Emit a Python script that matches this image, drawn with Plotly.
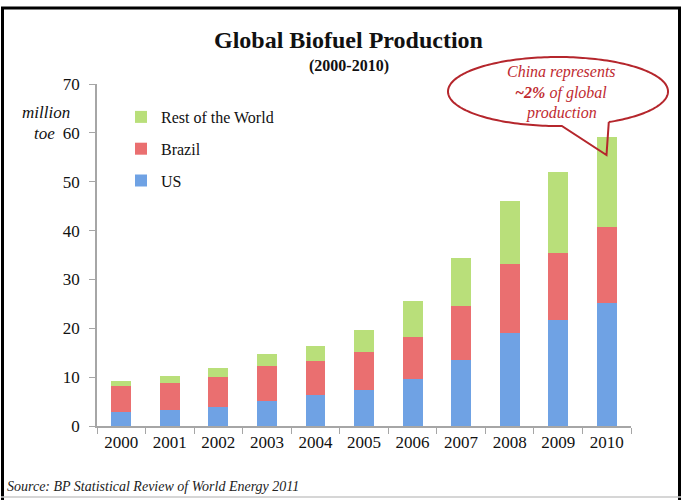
import numpy as np
import plotly.graph_objects as go

# Global biofuel production, million tonnes oil equivalent
years = ["2000", "2001", "2002", "2003", "2004", "2005",
         "2006", "2007", "2008", "2009", "2010"]
us = [2.9, 3.2, 3.8, 5.1, 6.3, 7.3, 9.7, 13.5, 19.1, 21.6, 25.2]
brazil = [5.3, 5.5, 6.3, 7.1, 7.1, 7.9, 8.6, 11.1, 14.1, 13.8, 15.6]
rest_of_world = [1.0, 1.5, 1.8, 2.5, 2.9, 4.5, 7.2, 9.8, 12.9, 16.6, 18.3]

SERIF = "Liberation Serif"
W, H = 681, 500
L, R, T, B = 97, 50, 84, 74
PW, PH = W - L - R, H - T - B


def px(x):
    return (x - L) / PW


def py(y):
    return (H - B - y) / PH


fig = go.Figure()
series = [("US", us, "#6fa2e4", 3),
          ("Brazil", brazil, "#ea6f70", 2),
          ("Rest of the World", rest_of_world, "#b9df7a", 1)]
for name, vals, col, rank in series:
    fig.add_trace(go.Bar(
        x=years, y=vals, name=name, legendgroup=name, legendrank=rank,
        marker=dict(color=col, line=dict(width=0)),
        width=0.41,
    ))

# callout bubble: ellipse with a pointer down to the 2010 bar
cx, cy, rx, ry = 558, 91.5, 110, 34.5
th = np.radians(np.linspace(62.5, 88 - 360, 200))
ex = cx + rx * np.cos(th)
ey = cy + ry * np.sin(th)
pts = list(zip(ex, ey)) + [(606.5, 155), (ex[0], ey[0])]
path = "M " + " L ".join(f"{px(a):.5f},{py(b):.5f}" for a, b in pts)

shapes = [
    dict(type="path", xref="paper", yref="paper", path=path,
         line=dict(color="#b5262c", width=2), fillcolor="rgba(0,0,0,0)",
         layer="above"),
    # frame
    dict(type="line", xref="paper", yref="paper", x0=px(2.5), x1=px(2.5),
         y0=py(7), y1=py(500), line=dict(color="black", width=3)),
    dict(type="line", xref="paper", yref="paper", x0=px(1), x1=px(681),
         y0=py(8), y1=py(8), line=dict(color="black", width=3)),
    dict(type="line", xref="paper", yref="paper", x0=px(679.5), x1=px(679.5),
         y0=py(7), y1=py(500), line=dict(color="black", width=3)),
    dict(type="line", xref="paper", yref="paper", x0=px(1), x1=px(681),
         y0=py(497), y1=py(497), line=dict(color="#c8c8c8", width=1.5)),
]

red = "#c02a30"
annotations = [
    dict(text="<b>Global Biofuel Production</b>", x=px(348), y=py(40),
         font=dict(size=24, color="#111", family=SERIF)),
    dict(text="<b>(2000-2010)</b>", x=px(349), y=py(66),
         font=dict(size=16, color="#111", family=SERIF)),
    dict(text="<i>million</i>", x=px(46), y=py(113),
         font=dict(size=17, color="#111", family=SERIF)),
    dict(text="<i>toe</i>", x=px(44), y=py(133),
         font=dict(size=17, color="#111", family=SERIF)),
    dict(text="<i>Source: BP Statistical Review of World Energy 2011</i>",
         x=px(5), y=py(486), xanchor="left",
         font=dict(size=14, color="#222", family=SERIF)),
    dict(text="<i>China represents</i>", x=px(561), y=py(72),
         font=dict(size=16, color=red, family=SERIF)),
    dict(text="<i><b>~2%</b> of global</i>", x=px(561), y=py(93),
         font=dict(size=16, color=red, family=SERIF)),
    dict(text="<i>production</i>", x=px(561), y=py(113),
         font=dict(size=16, color=red, family=SERIF)),
]
for a in annotations:
    a.update(xref="paper", yref="paper", showarrow=False)
    a.setdefault("xanchor", "center")
    a["yanchor"] = "middle"

fig.update_layout(
    width=W, height=H,
    margin=dict(l=L, r=R, t=T, b=B),
    paper_bgcolor="white", plot_bgcolor="white",
    barmode="stack", bargap=0.59,
    font=dict(family=SERIF, size=17, color="#111"),
    showlegend=True,
    legend=dict(x=px(121), y=py(100), xanchor="left", yanchor="top",
                traceorder="grouped", tracegroupgap=8,
                font=dict(size=16, family=SERIF, color="#111"),
                bgcolor="rgba(0,0,0,0)", itemwidth=30),
    xaxis=dict(type="category", showline=True, linecolor="#a6a6a6",
               linewidth=1.5, ticks="outside", tickson="boundaries",
               ticklen=6, tickcolor="#a6a6a6", showgrid=False,
               tickfont=dict(size=17, family=SERIF, color="#111")),
    yaxis=dict(range=[0, 70], dtick=10, showline=True, linecolor="#a6a6a6",
               linewidth=1.5, ticks="outside", ticklen=6, tickcolor="#a6a6a6",
               showgrid=False, zeroline=False, ticklabelstandoff=6,
               tickfont=dict(size=17, family=SERIF, color="#111")),
    shapes=shapes, annotations=annotations,
)

fig.write_html("out.html")
